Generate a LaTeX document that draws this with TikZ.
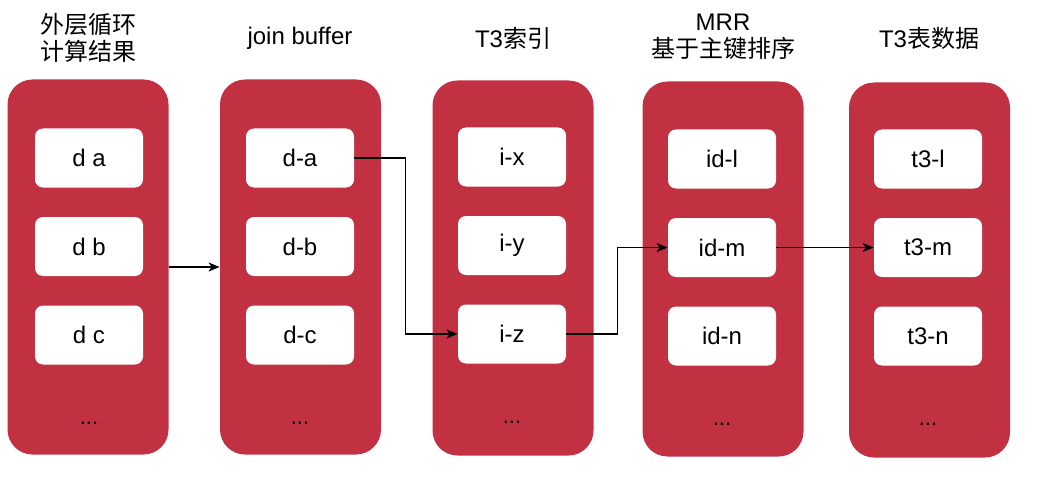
\documentclass[tikz,border=0pt]{standalone}
\usepackage{fontspec}
\setmainfont{Liberation Sans}
\newfontfamily\cjk{Noto Sans CJK SC}
\usepackage{tikz}
\usetikzlibrary{arrows.meta}
\definecolor{cardred}{RGB}{193,49,66}
\tikzstyle{column} = [rectangle, rounded corners=12.5pt, minimum width=80.5pt, minimum height=187.5pt, fill=cardred, draw=none]
\tikzstyle{item} = [rectangle, rounded corners=4pt, minimum width=54pt, minimum height=29.5pt, fill=white, text centered, font=\fontsize{12}{14}\selectfont]
\tikzstyle{dots} = [font=\fontsize{11}{13}\selectfont]
\tikzstyle{title} = [align=center, font=\fontsize{12}{13.5}\selectfont]
\tikzstyle{arrow} = [line width=0.6pt,->,>={Stealth[length=5.5pt,width=4.5pt,inset=1.5pt]}]

\begin{document}
\begin{tikzpicture}[x=0.5pt, y=-0.5pt, node distance=44.25pt]

	\useasboundingbox (0,0) rectangle (1038,481);

	% titles
	\node (outertitle) [title] at (88,38) {\cjk 外层循环\\\cjk 计算结果};
	\node (jointitle) [title] at (300,38) {join buffer};
	\node (idxtitle) [title] at (513,38) {T3{\cjk 索引}};
	\node (mrrtitle) [title] at (723,37) {MRR\\\cjk 基于主键排序};
	\node (datatitle) [title] at (929,38) {T3{\cjk 表数据}};

	% columns
	\node (outer) [column] at (88,267) {};
	\node (join) [column] at (300.5,267) {};
	\node (idx) [column] at (513,268) {};
	\node (mrr) [column] at (723,269) {};
	\node (data) [column] at (929.5,270) {};

	\node (da) [item] at (89,158) {d a};
	\node (db) [item, below of=da] {d b};
	\node (dc) [item, below of=db] {d c};
	\node (dmore) [dots, below of=dc] {...};

	\node (ja) [item] at (300,158) {d-a};
	\node (jb) [item, below of=ja] {d-b};
	\node (jc) [item, below of=jb] {d-c};
	\node (jmore) [dots, below of=jc] {...};

	\node (ix) [item] at (512,157) {i-x};
	\node (iy) [item, below of=ix] {i-y};
	\node (iz) [item, below of=iy] {i-z};
	\node (imore) [dots, below of=iz] {...};

	\node (idl) [item] at (722,159) {id-l};
	\node (idm) [item, below of=idl] {id-m};
	\node (idn) [item, below of=idm] {id-n};
	\node (idmore) [dots, below of=idn] {...};

	\node (tl) [item] at (928,159) {t3-l};
	\node (tm) [item, below of=tl] {t3-m};
	\node (tn) [item, below of=tm] {t3-n};
	\node (tmore) [dots, below of=tn] {...};

	% links
	\draw [arrow] (outer) -- (join);
	\draw [arrow] (ja.east) -- ++(51,0) |- (iz.west);
	\draw [arrow] (iz.east) -- ++(51,0) |- (idm.west);
	\draw [arrow] (idm) -- (tm);

\end{tikzpicture}
\end{document}
